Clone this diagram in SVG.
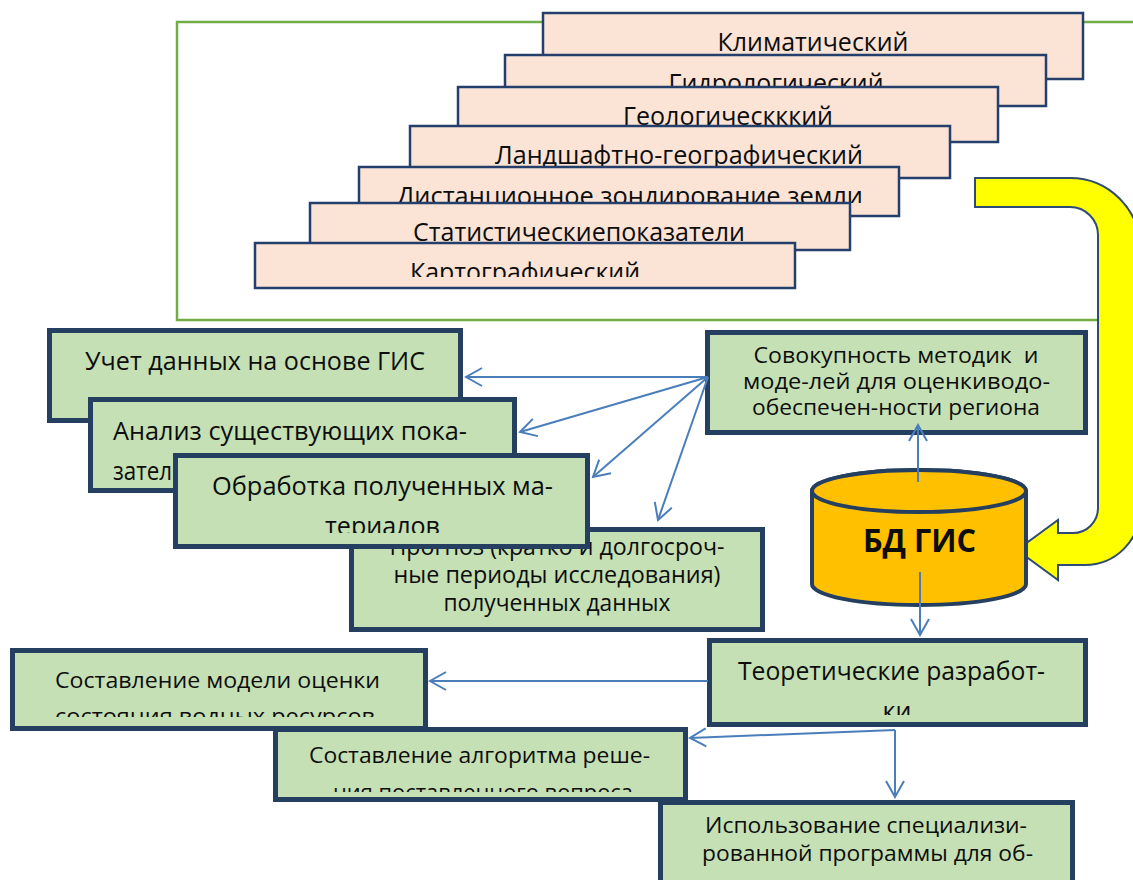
<svg xmlns="http://www.w3.org/2000/svg" width="1133" height="880" viewBox="0 0 1133 880">
<style>
.pink{fill:#FBE4D5;stroke:#243F6B;stroke-width:2.5}
.grn{fill:#C5E0B4;stroke:#243F60;stroke-width:5}
.t{font-family:"Open Sans","Noto Sans","DejaVu Sans",sans-serif;fill:#0D0D0D;text-anchor:middle}
.s25{font-size:25px}.s23{font-size:23px}.s22{font-size:22px}.s21{font-size:21px}
.st{text-anchor:start}
.con{fill:none;stroke:#4A7EBB;stroke-width:2;marker-end:url(#ah)}
</style>
<defs>
<marker id="ah" markerUnits="userSpaceOnUse" viewBox="-20 -12 22 24" refX="0" refY="0" markerWidth="22" markerHeight="24" orient="auto">
<path d="M-16,-9 L0,0 L-16,9" fill="none" stroke="#4A7EBB" stroke-width="2"/>
</marker>
<clipPath id="c5"><rect x="359" y="167" width="540" height="36"/></clipPath>
<clipPath id="c7"><rect x="255" y="243" width="540" height="34"/></clipPath>
<clipPath id="cC"><rect x="175" y="455" width="412" height="78"/></clipPath>
<clipPath id="cF"><rect x="709" y="640" width="376" height="75"/></clipPath>
<clipPath id="cG"><rect x="12" y="650" width="413" height="67"/></clipPath>
<clipPath id="cH"><rect x="275" y="729" width="410" height="63"/></clipPath>
</defs>
<rect width="1133" height="880" fill="#FFFFFF"/>
<rect id="frame" x="177" y="22" width="990" height="298" fill="none" stroke="#70AD47" stroke-width="2.5"/>

<g id="src1"><rect class="pink" x="543" y="13" width="540" height="66"/><text class="t s25" x="813" y="51" textLength="191" lengthAdjust="spacingAndGlyphs">Климатический</text></g>
<g id="src2"><rect class="pink" x="505" y="55" width="541" height="51"/><text class="t s25" x="776" y="92" textLength="215" lengthAdjust="spacingAndGlyphs">Гидрологический</text></g>
<g id="src3"><rect class="pink" x="458" y="87" width="540" height="55"/><text class="t s25" x="728" y="125" textLength="210" lengthAdjust="spacingAndGlyphs">Геологическккий</text></g>
<g id="src4"><rect class="pink" x="410" y="126" width="540" height="52"/><text class="t s25" x="679" y="164" textLength="368" lengthAdjust="spacingAndGlyphs">Ландшафтно-географический</text></g>
<g id="src5"><rect class="pink" x="359" y="167" width="540" height="49"/><text class="t s25" x="630" y="205" textLength="466" lengthAdjust="spacingAndGlyphs" clip-path="url(#c5)">Дистанционное зондирование земли</text></g>
<g id="src6"><rect class="pink" x="310" y="203" width="540" height="47"/><text class="t s25" x="579" y="241" textLength="332" lengthAdjust="spacingAndGlyphs">Статистическиепоказатели</text></g>
<g id="src7"><rect class="pink" x="255" y="243" width="540" height="45"/><text class="t s25" x="525" y="281" textLength="230" lengthAdjust="spacingAndGlyphs" clip-path="url(#c7)">Картографический</text></g>

<g id="bigArrow"><path d="M975,178 L1070,178 A70,70 0 0 1 1140,248 L1140,510 A55,55 0 0 1 1085,565 L1058,565 L1058,580 L1017,550 L1058,520 L1058,533 L1073,533 A25,25 0 0 0 1098,508 L1098,235 A28,28 0 0 0 1070,207 L975,207 Z" fill="#FFFF00" stroke="#2F4A74" stroke-width="2"/></g>

<g id="nodeA"><rect class="grn" x="49.5" y="330.5" width="411" height="90"/><text class="t s25" x="255" y="370" textLength="340" lengthAdjust="spacingAndGlyphs">Учет данных на основе ГИС</text></g>
<g id="nodeB"><rect class="grn" x="90.5" y="399.5" width="424" height="91"/><text class="t s25 st" x="113" y="440" textLength="354" lengthAdjust="spacingAndGlyphs">Анализ существующих пока-</text><text class="t s25 st" x="113" y="480" textLength="86" lengthAdjust="spacingAndGlyphs">зателей</text></g>
<g id="nodeD"><rect class="grn" x="351.5" y="529.5" width="411" height="100"/><text class="t s23" x="557" y="555" textLength="335" lengthAdjust="spacingAndGlyphs">Прогноз (кратко и долгосроч-</text><text class="t s23" x="557" y="583" textLength="327" lengthAdjust="spacingAndGlyphs">ные периоды исследования)</text><text class="t s23" x="557" y="611" textLength="227" lengthAdjust="spacingAndGlyphs">полученных данных</text></g>
<g id="nodeC"><rect class="grn" x="175.5" y="455.5" width="412" height="91"/><text class="t s25" x="382.5" y="495" textLength="341" lengthAdjust="spacingAndGlyphs">Обработка полученных ма-</text><text class="t s25" x="382.5" y="535" textLength="115" lengthAdjust="spacingAndGlyphs" clip-path="url(#cC)">териалов</text></g>
<g id="nodeE"><rect class="grn" x="707.5" y="332.5" width="378" height="100"/><text class="t s21" x="896" y="363" textLength="285" lengthAdjust="spacingAndGlyphs" xml:space="preserve">Совокупность методик  и</text><text class="t s21" x="896.5" y="389" textLength="307" lengthAdjust="spacingAndGlyphs">моде-лей для оценкиводо-</text><text class="t s21" x="896" y="415" textLength="288" lengthAdjust="spacingAndGlyphs">обеспечен-ности региона</text></g>

<g id="db"><path d="M812,491 A107,21 0 0 1 1026,491 L1026,584 A107,21 0 0 1 812,584 Z" fill="#FFC000" stroke="#243F60" stroke-width="4"/><ellipse cx="919" cy="491" rx="107" ry="21" fill="#FFC000" stroke="#243F60" stroke-width="4"/><text class="t" x="919.5" y="552" font-size="32" font-weight="bold" textLength="113" lengthAdjust="spacingAndGlyphs">БД ГИС</text></g>

<g id="nodeF"><rect class="grn" x="709.5" y="640.5" width="376" height="84"/><text class="t s25" x="891.5" y="680" textLength="307" lengthAdjust="spacingAndGlyphs">Теоретические разработ-</text><text class="t s25" x="897" y="720" clip-path="url(#cF)">ки</text></g>
<g id="nodeG"><rect class="grn" x="12.5" y="650.5" width="413" height="78"/><text class="t s22" x="217.5" y="688" textLength="325" lengthAdjust="spacingAndGlyphs">Составление модели оценки</text><text class="t s22" x="215" y="724" textLength="320" lengthAdjust="spacingAndGlyphs" clip-path="url(#cG)">состояния водных ресурсов</text></g>
<g id="nodeH"><rect class="grn" x="275.5" y="729.5" width="410" height="70"/><text class="t s22" x="479.5" y="763" textLength="341" lengthAdjust="spacingAndGlyphs">Составление алгоритма реше-</text><text class="t s22" x="483" y="800" textLength="300" lengthAdjust="spacingAndGlyphs" clip-path="url(#cH)">ния поставленного вопроса</text></g>
<g id="nodeI"><rect class="grn" x="660.5" y="802.5" width="412" height="100"/><text class="t s22" x="866" y="833" textLength="322" lengthAdjust="spacingAndGlyphs">Использование специализи-</text><text class="t s22" x="867.5" y="861" textLength="331" lengthAdjust="spacingAndGlyphs">рованной программы для об-</text></g>

<g id="connectors">
<path class="con" d="M708,377 L466,377"/>
<path class="con" d="M708,377 L520,432"/>
<path class="con" d="M708,377 L593,477"/>
<path class="con" d="M708,377 L658,520"/>
<path class="con" d="M918,482 L918,425"/>
<path class="con" d="M920,572 L920,635"/>
<path class="con" d="M708,681 L430,681"/>
<path class="con" d="M895,730 L690,738"/>
<path class="con" d="M895,730 L895,797"/>
</g>
</svg>
